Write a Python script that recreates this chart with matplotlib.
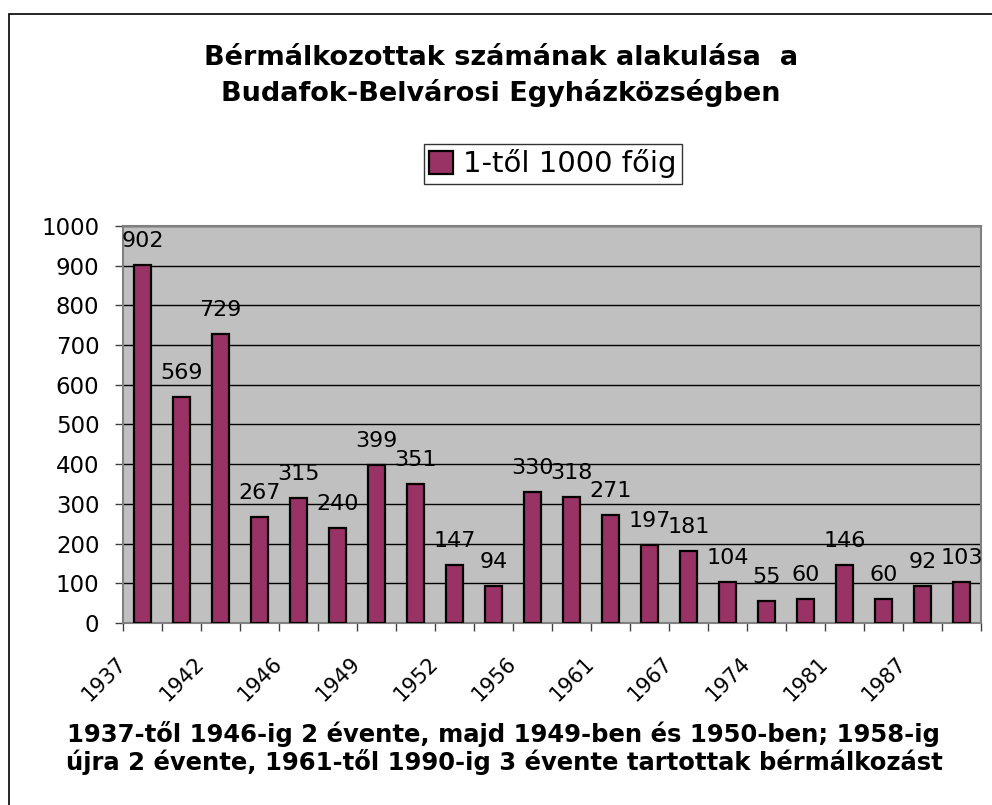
import numpy as np
import matplotlib.pyplot as plt
from matplotlib.patches import Rectangle

# data
values = [902, 569, 729, 267, 315, 240, 399, 351, 147, 94, 330,
          318, 271, 197, 181, 104, 55, 60, 146, 60, 92, 103]
year_labels = ['1937', '1942', '1946', '1949', '1952', '1956',
               '1961', '1967', '1974', '1981', '1987']
series_name = '1-től 1000 főig'
title = 'Bérmálkozottak számának alakulása  a\nBudafok-Belvárosi Egyházközségben'
note = ('1937-től 1946-ig 2 évente, majd 1949-ben és 1950-ben; 1958-ig\n'
        'újra 2 évente, 1961-től 1990-ig 3 évente tartottak bérmálkozást')

plt.rcParams['font.family'] = ['DejaVu Sans']

fig = plt.figure(figsize=(9.92, 8.05), dpi=100)
ax = fig.add_axes([0.124, 0.2261, 0.865, 0.4932])

x = np.arange(len(values))
bars = ax.bar(x, values, width=0.44, color='#993366', edgecolor='black',
              linewidth=1.6, label=series_name, zorder=3)

for xi, v in zip(x, values):
    ax.annotate(str(v), (xi, v), xytext=(0, 13), textcoords='offset points',
                ha='center', va='baseline', fontsize=16, zorder=4)

ax.set_facecolor('#C0C0C0')
ax.set_xlim(-0.5, len(values) - 0.5)
ax.set_ylim(0, 1000)
ax.set_yticks(np.arange(0, 1001, 100))
ax.yaxis.grid(True, color='black', linewidth=1, zorder=1)
ax.tick_params(axis='y', direction='out', length=6, width=1,
               color='#404040', labelsize=16.5, pad=11)

# category boundaries, labelled every second one
bounds = np.arange(-0.5, len(values), 1)
labels = [''] * len(bounds)
for i, lab in enumerate(year_labels):
    labels[2 * i] = lab
ax.set_xticks(bounds)
ax.set_xticklabels(labels, rotation=45, ha='right', va='center',
                   rotation_mode='anchor', fontsize=15)
ax.tick_params(axis='x', direction='out', length=6, width=1,
               color='#404040', pad=21)

for s in ax.spines.values():
    s.set_color('#808080')
    s.set_linewidth(1.5)

fig.text(0.505, 1 - 76 / 805, title, ha='center', va='center',
         fontsize=19.5, fontweight='bold', linespacing=1.33)

leg = fig.legend(handles=[bars], labels=[series_name], loc='center',
                 bbox_to_anchor=(553 / 992, 1 - 164 / 805), fontsize=21,
                 frameon=True, fancybox=False, handlelength=0.8,
                 handleheight=0.8, handletextpad=0.35, borderpad=0.2,
                 borderaxespad=0)
leg.get_frame().set_edgecolor('black')
leg.get_frame().set_linewidth(1)

fig.text(0.508, 1 - 748 / 805, note, ha='center', va='center',
         fontsize=17.5, fontweight='bold', linespacing=1.05)

# outer chart frame (only left and top edges visible)
fig.patches.append(Rectangle((8.5 / 992, -0.1), 1.2, 1 - 14.5 / 805 + 0.1,
                             transform=fig.transFigure, fill=False,
                             edgecolor='black', linewidth=1.2))

plt.savefig('out.png', dpi=100)
